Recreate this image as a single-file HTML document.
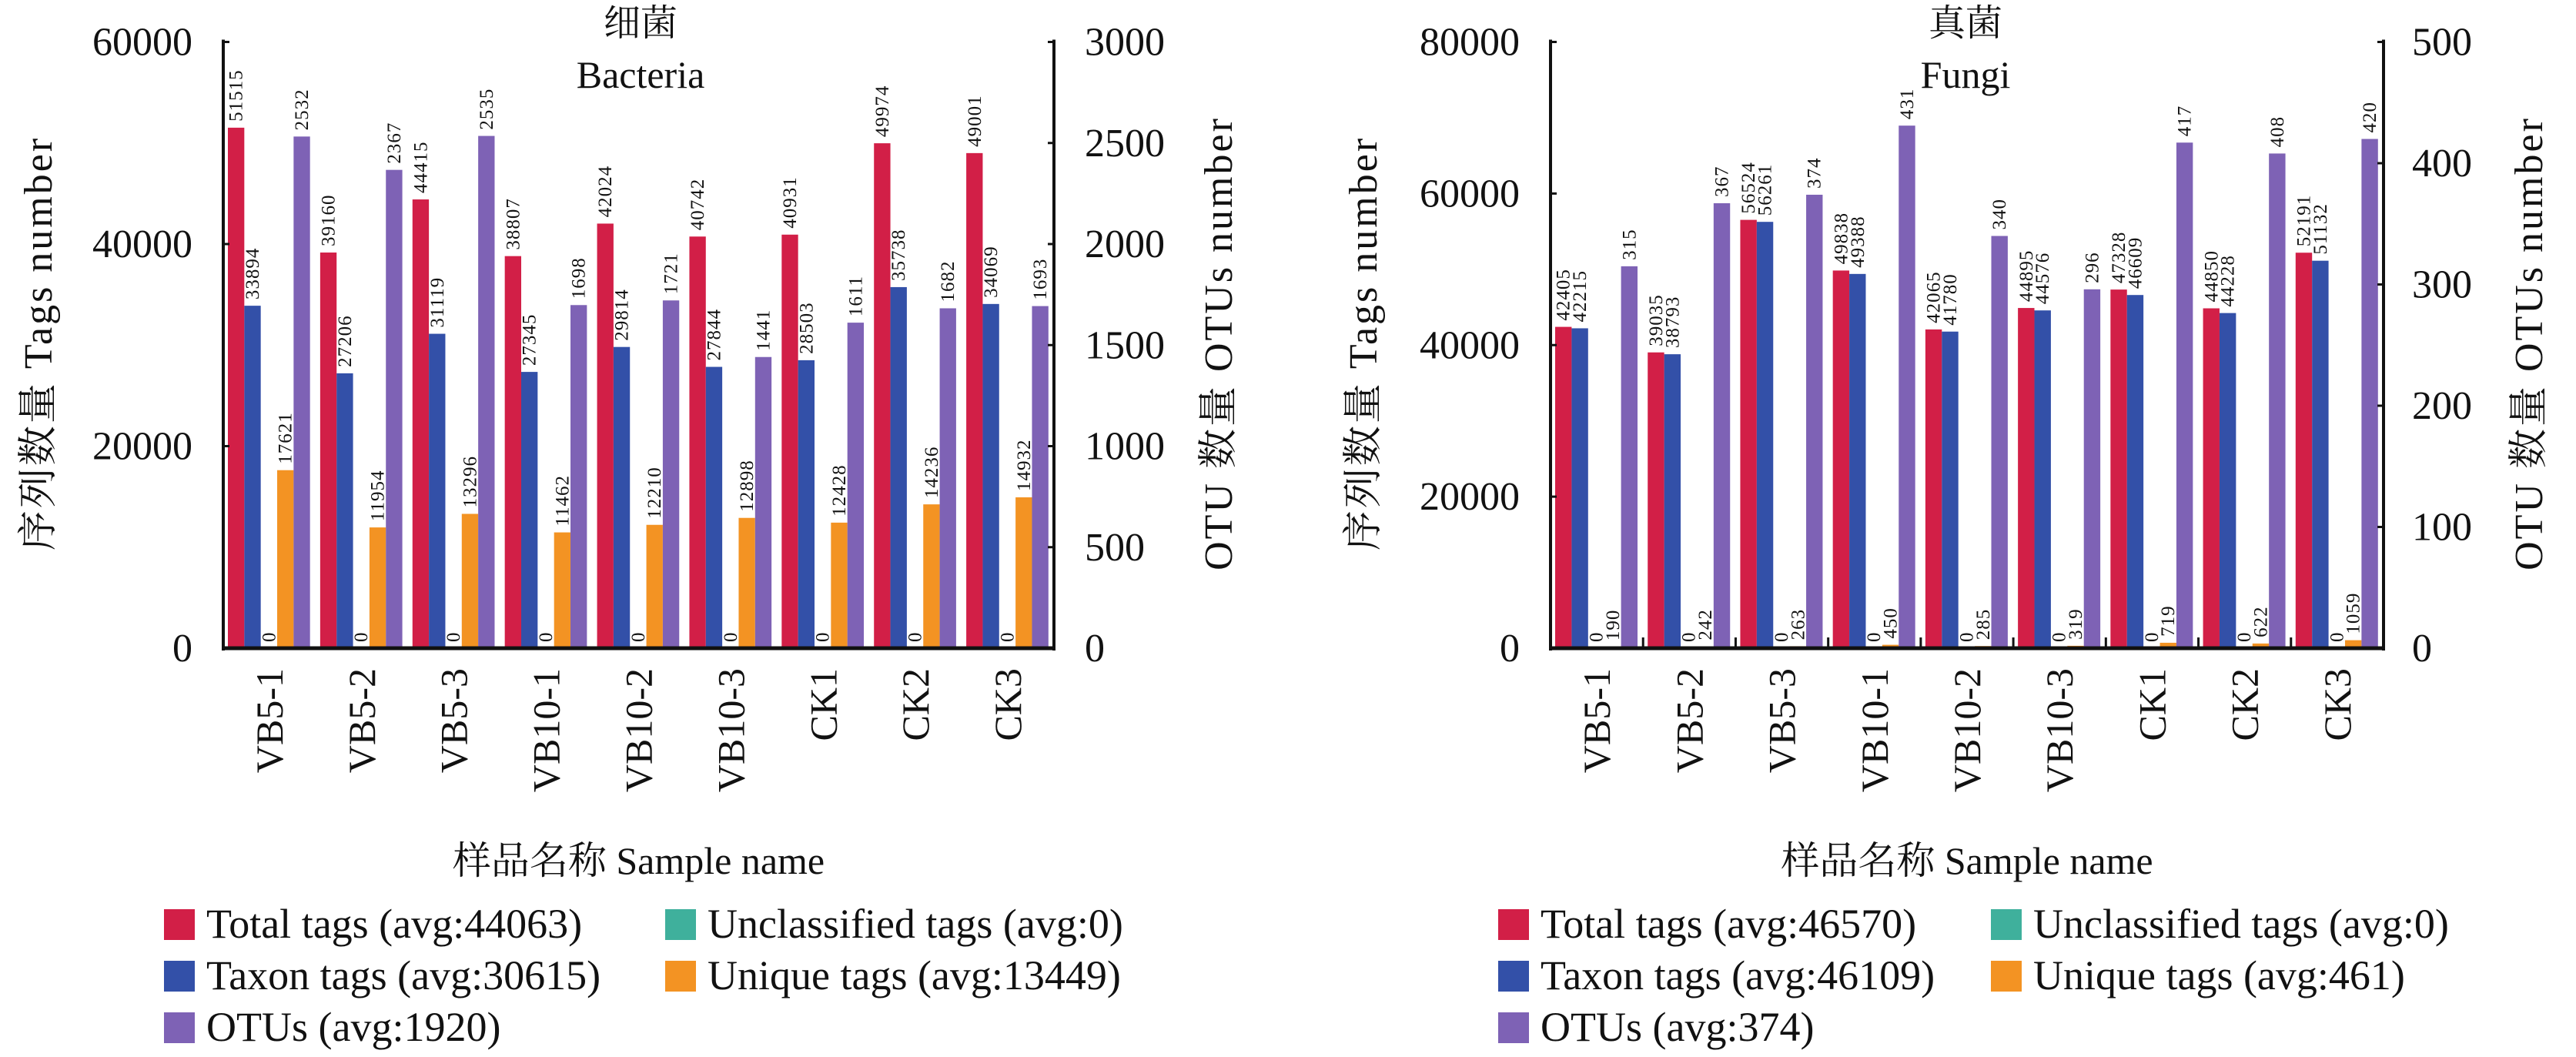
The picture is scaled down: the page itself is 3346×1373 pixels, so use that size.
<!DOCTYPE html>
<html><head><meta charset="utf-8"><style>
body{margin:0;background:#fff}
svg text{font-family:"Liberation Serif","Noto Serif CJK SC","Noto Sans CJK SC",serif;fill:#111}
</style></head><body>
<svg id="s" width="3346" height="1368" viewBox="0 0 3346 1368" xmlns="http://www.w3.org/2000/svg"></svg>
<script>
const categories=["VB5-1","VB5-2","VB5-3","VB10-1","VB10-2","VB10-3","CK1","CK2","CK3"];
const bactTotal=[51515,39160,44415,38807,42024,40742,40931,49974,49001];
const bactTaxon=[33894,27206,31119,27345,29814,27844,28503,35738,34069];
const bactUnclass=[0,0,0,0,0,0,0,0,0];
const bactUnique=[17621,11954,13296,11462,12210,12898,12428,14236,14932];
const bactOTU=[2532,2367,2535,1698,1721,1441,1611,1682,1693];
const fungTotal=[42405,39035,56524,49838,42065,44895,47328,44850,52191];
const fungTaxon=[42215,38793,56261,49388,41780,44576,46609,44228,51132];
const fungUnclass=[0,0,0,0,0,0,0,0,0];
const fungUnique=[190,242,263,450,285,319,719,622,1059];
const fungOTU=[315,367,374,431,340,296,417,408,420];
const bactLeftTicks=[0,20000,40000,60000];
const bactRightTicks=[0,500,1000,1500,2000,2500,3000];
const fungLeftTicks=[0,20000,40000,60000,80000];
const fungRightTicks=[0,100,200,300,400,500];
const bactLegend=["Total tags (avg:44063)","Unclassified tags (avg:0)","Taxon tags (avg:30615)","Unique tags (avg:13449)","OTUs (avg:1920)"];
const fungLegend=["Total tags (avg:46570)","Unclassified tags (avg:0)","Taxon tags (avg:46109)","Unique tags (avg:461)","OTUs (avg:374)"];
const COLORS=["#d21f47","#3350a8","#3fb09c","#f39323","#7e62b5"];
const legendColorIdx=[0,2,1,3,4];
const NS="http://www.w3.org/2000/svg";
const svg=document.getElementById('s');
function el(tag,attrs,parent,txt){const e=document.createElementNS(NS,tag);for(const k in attrs)e.setAttribute(k,attrs[k]);if(txt!==undefined)e.textContent=txt;(parent||svg).appendChild(e);return e;}

function drawChart(o){
  const g=el('g',{});
  
  
  const L=o.x0,R=o.x1,T=54.5,B=842;
  const yL=v=>B-(v/o.lmax)*(B-T);
  const yR=v=>B-(v/o.rmax)*(B-T);
  const gw=(R-L)/categories.length, bw=gw*0.178, off=gw*0.05;
  const series=[[o.total,0,'L'],[o.taxon,1,'L'],[o.unclass,2,'L'],[o.unique,3,'L'],[o.otu,4,'R']];
  categories.forEach((c,i)=>{
    series.forEach((s,j)=>{
      const v=s[0][i];const y=s[2]==='L'?yL(v):yR(v);
      const x=L+i*gw+off+j*bw;
      const r=el('rect',{x:x,y:y,width:bw,height:B-y,fill:COLORS[s[1]]},g);
      
      
      const lx=x+bw/2+8,ly=y-8;
      const t=el('text',{x:lx,y:ly,'font-size':25,'letter-spacing':1,transform:`rotate(-90 ${lx} ${ly})`,'text-anchor':'start'},g,String(v));
      
      
    });
    const cx=L+(i+0.5)*gw;
    const t=el('text',{x:cx+17,y:868,'font-size':50,transform:`rotate(-90 ${cx+17} 868)`,'text-anchor':'end'},g,c);
    
    
    if(o.xticks&&i>0){el('line',{x1:L+i*gw,x2:L+i*gw,y1:B,y2:B-14,stroke:'#111','stroke-width':3},g);}
  });
  el('line',{x1:L,x2:L,y1:T-3,y2:B+3,stroke:'#111','stroke-width':4},g);
  el('line',{x1:R,x2:R,y1:T-3,y2:B+3,stroke:'#111','stroke-width':4},g);
  el('line',{x1:L-2,x2:R+2,y1:B,y2:B,stroke:'#111','stroke-width':5},g);
  o.lt.forEach(v=>{const y=yL(v);el('line',{x1:L,x2:L+8,y1:y,y2:y,stroke:'#111','stroke-width':3},g);
    const t=el('text',{x:o.ltx,y:y+17,'font-size':52,'text-anchor':'end'},g,String(v));
    });
  o.rt.forEach(v=>{const y=yR(v);el('line',{x1:R-8,x2:R,y1:y,y2:y,stroke:'#111','stroke-width':3},g);
    const t=el('text',{x:o.rtx,y:y+17,'font-size':52,'text-anchor':'start'},g,String(v));
    });
  let t=el('text',{x:o.tcx,y:46,'font-size':48,'text-anchor':'middle'},g,o.cn);
  
  t=el('text',{x:o.tcx,y:114,'font-size':50,'text-anchor':'middle'},g,o.en);
  
  t=el('text',{x:o.lyx,y:446,'font-size':52,'letter-spacing':3,'text-anchor':'middle',transform:`rotate(-90 ${o.lyx} 446)`,'dominant-baseline':'middle'},g,'序列数量 Tags number');
  
  t=el('text',{x:o.ryx,y:446,'font-size':52,'letter-spacing':3,'text-anchor':'middle',transform:`rotate(-90 ${o.ryx} 446)`,'dominant-baseline':'middle'},g,'OTU 数量 OTUs number');
  
  t=el('text',{x:(L+R)/2,y:1135,'font-size':50,'text-anchor':'middle'},g,'样品名称 Sample name');
  
  o.legend.forEach((s,k)=>{
    const col=k%2,row=Math.floor(k/2);
    const sx=col?o.lg2:o.lg1, y=1201+row*67;
    const r=el('rect',{x:sx,y:y-20,width:40,height:40,fill:COLORS[legendColorIdx[k]]},g);
    
    const tt=el('text',{x:sx+55,y:y+17,'font-size':54},g,s);
    
  });
}
drawChart({name:'bacteria-chart',x0:290,x1:1369,lmax:60000,rmax:3000,total:bactTotal,taxon:bactTaxon,unclass:bactUnclass,unique:bactUnique,otu:bactOTU,
  lt:bactLeftTicks,rt:bactRightTicks,ltx:250,rtx:1409,tcx:832,cn:'细菌',en:'Bacteria',lyx:55,ryx:1588,legend:bactLegend,lg1:213,lg2:864,xticks:false});
drawChart({name:'fungi-chart',x0:2014,x1:3096,lmax:80000,rmax:500,total:fungTotal,taxon:fungTaxon,unclass:fungUnclass,unique:fungUnique,otu:fungOTU,
  lt:fungLeftTicks,rt:fungRightTicks,ltx:1974,rtx:3133,tcx:2553,cn:'真菌',en:'Fungi',lyx:1776,ryx:3290,legend:fungLegend,lg1:1946,lg2:2586,xticks:true});
</script>
</body></html>
